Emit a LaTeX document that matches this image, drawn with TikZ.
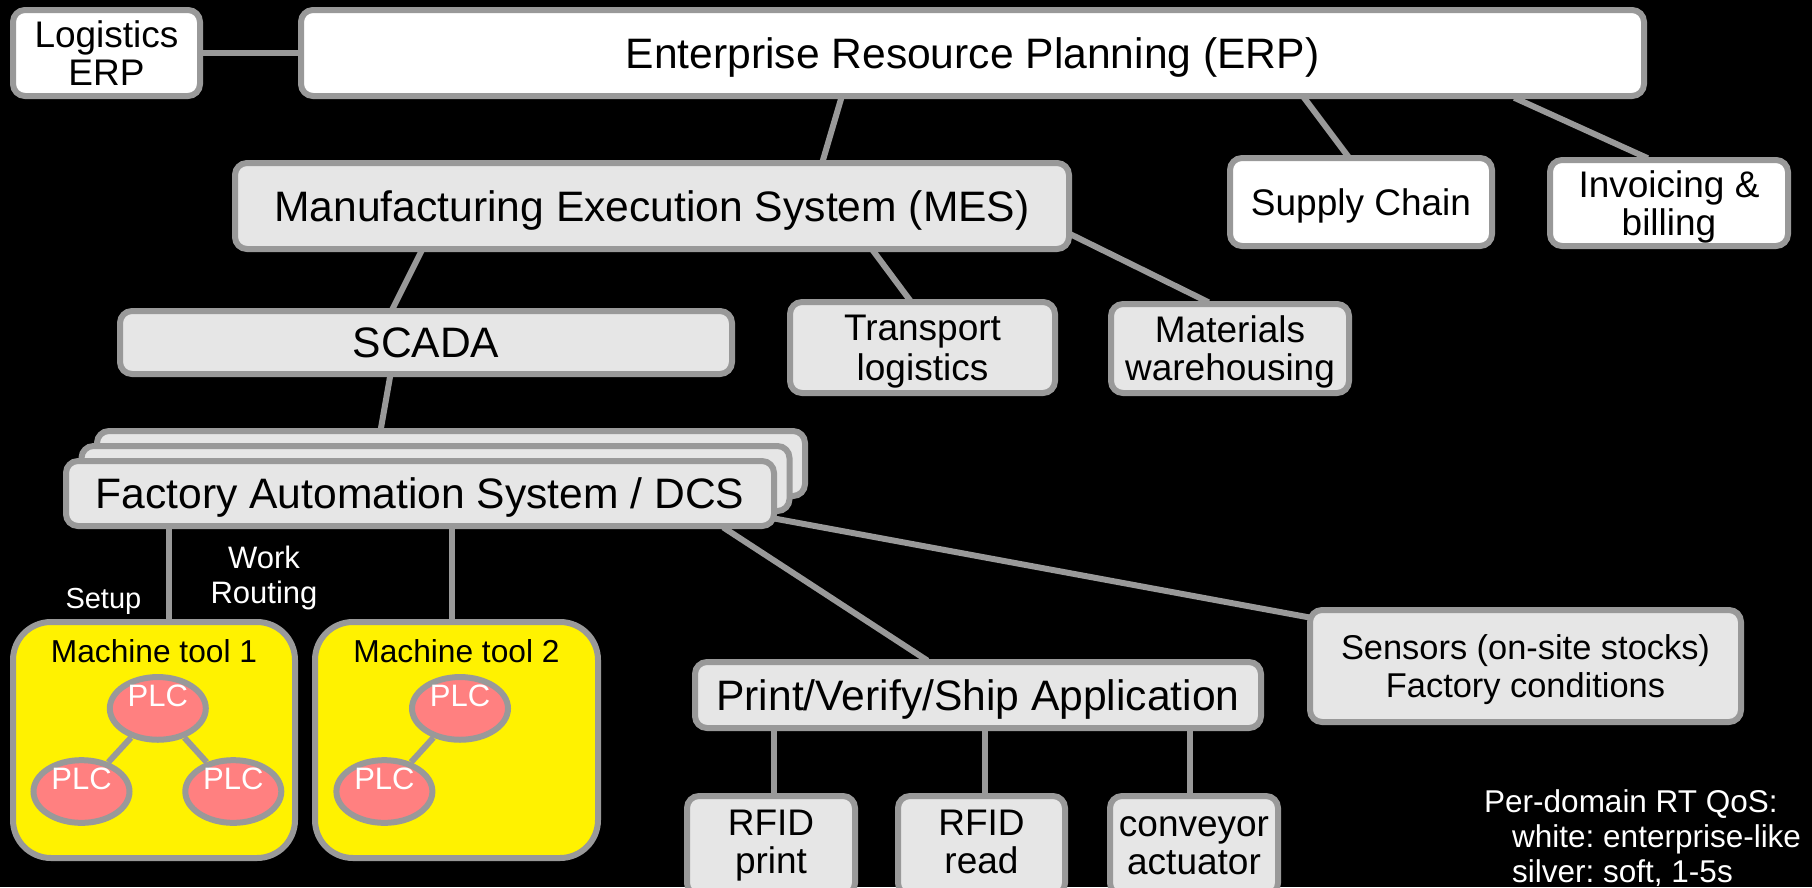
\documentclass[tikz,border=0pt]{standalone}
\usepackage{fontspec}
\setmainfont{Liberation Sans}
\usetikzlibrary{shapes.geometric,calc}
\definecolor{edge}{HTML}{999999}
\definecolor{silver}{HTML}{E6E6E6}
\definecolor{plcred}{HTML}{FF8080}
\pgfdeclarelayer{bg}
\pgfdeclarelayer{wires}
\pgfsetlayers{bg,wires,main}

\begin{document}
\frenchspacing
\begin{tikzpicture}[x=1pt,y=-1pt,
  box/.style={draw=edge, line width=6pt, rounded corners=12pt, inner sep=0pt, align=center, text=black, text depth=0pt},
  wbox/.style={box, fill=white},
  sbox/.style={box, fill=silver},
  big/.style={font=\fontsize{42.6}{46}\selectfont},
  small/.style={font=\fontsize{37}{38}\selectfont},
  mtbox/.style={draw=edge, line width=6pt, rounded corners=38pt, fill=yellow, inner sep=0pt},
  plc/.style={ellipse, draw=edge, line width=6pt, fill=plcred, inner sep=0pt, minimum width=96pt, minimum height=62.7pt},
  plctext/.style={text=white, font=\fontsize{31}{33}\selectfont, inner sep=0pt},
  link/.style={draw=edge, line width=6pt, shorten <=-3pt, shorten >=-3pt},
  plclink/.style={draw=edge, line width=6pt},
  note/.style={text=white, inner sep=0pt}
]
\path[use as bounding box] (0,0) rectangle (1812,887);
\clip (0,0) rectangle (1812,887);
\begin{pgfonlayer}{bg}
  \fill[black] (0,0) rectangle (1812,887);
\end{pgfonlayer}

% enterprise level
\node[wbox, small, minimum width=187pt, minimum height=86pt] (logi) at (106.5,53) {Logistics\\ERP};
\node[wbox, big, minimum width=1343pt, minimum height=86pt] (erp) at (972.5,53) {Enterprise Resource Planning (ERP)};
\node[wbox, small, minimum width=262pt, minimum height=88pt] (supply) at (1361,202) {Supply Chain};
\node[wbox, small, minimum width=238pt, minimum height=86pt] (invoice) at (1669,203) {Invoicing \&\\billing};

% operations level
\node[sbox, big, minimum width=834pt, minimum height=86pt] (mes) at (652,206) {Manufacturing Execution System (MES)};
\node[sbox, big, minimum width=612pt, minimum height=63pt] (scada) at (426,342.5) {SCADA};
\node[sbox, font=\fontsize{37}{40}\selectfont, minimum width=265pt, minimum height=91pt] (transport) at (922.5,347.5) {Transport\\logistics};
\node[sbox, small, minimum width=238pt, minimum height=89pt] (materials) at (1230,348.5) {Materials\\warehousing};

% stacked automation systems
\node[sbox, minimum width=708pt, minimum height=65pt] (fasback) at (451,463.5) {};
\node[sbox, minimum width=708pt, minimum height=65pt] (fasmid) at (435.5,478.5) {};
\node[sbox, big, minimum width=708pt, minimum height=65pt] (fas) at (420,493.5) {Factory Automation System / DCS};

% machine tools
\node[mtbox, minimum width=282pt, minimum height=236pt] (mt1) at (154,740) {};
\node[mtbox, minimum width=283pt, minimum height=236pt] (mt2) at (456.5,740) {};
\node[note, text=black, anchor=base, font=\fontsize{31.7}{34}\selectfont] (mt1title) at ([yshift=-43.5pt]mt1.north) {Machine tool 1};
\node[note, text=black, anchor=base, font=\fontsize{31.7}{34}\selectfont] (mt2title) at ([yshift=-43.5pt]mt2.north) {Machine tool 2};

\node[plc] (p11) at (157.8,708.4) {};
\node[plc] (p12) at (81.5,791.5) {};
\node[plc] (p13) at (233.3,791.5) {};
\node[plc] (p21) at (460,708.4) {};
\node[plc] (p22) at (384.4,791.5) {};
\draw[plclink] (p11) -- (p12);
\draw[plclink] (p11) -- (p13);
\draw[plclink] (p21) -- (p22);
\foreach \p in {p11,p12,p13,p21,p22}
  \node[plctext] (\p text) at ([yshift=12.4pt]\p.center) {PLC};

% print / verify / ship
\node[sbox, big, minimum width=566pt, minimum height=66pt] (pvs) at (978,695) {Print/Verify/Ship Application};
\node[sbox, font=\fontsize{34.4}{38.7}\selectfont, text depth=-4.4pt, minimum width=431pt, minimum height=112pt] (sensors) at (1525.5,666) {Sensors (on-site stocks)\\Factory conditions};
\node[sbox, small, text depth=7.8pt, minimum width=168pt, minimum height=99pt] (rfidp) at (771,845.5) {RFID\\print};
\node[sbox, small, text depth=7.8pt, minimum width=167pt, minimum height=99pt] (rfidr) at (981.5,845.5) {RFID\\read};
\node[sbox, small, minimum width=168pt, minimum height=99pt] (conv) at (1194,845.5) {conveyor\\actuator};

% link labels and notes
\node[note, anchor=base, font=\fontsize{29}{31}\selectfont] (setup) at (103.4,608.5) {Setup};
\node[note, align=center, font=\fontsize{31}{35}\selectfont] (routing) at (264,577.5) {Work\\Routing};
\node[note, anchor=base west, font=\fontsize{31.5}{35}\selectfont] (qos) at (1484,812) {Per-domain RT QoS:};
\node[note, anchor=base west, font=\fontsize{31.5}{35}\selectfont] (qoswhite) at (1512,847) {white: enterprise-like};
\node[note, anchor=base west, font=\fontsize{31.5}{35}\selectfont] (qossilver) at (1512,882) {silver: soft, 1-5s};

% connectors
\begin{pgfonlayer}{wires}
  \draw[link] (logi.east) -- (erp.west);
  \draw[link] ([xshift=543pt]erp.south west) -- ([xshift=591pt]mes.north west);
  \draw[link] ([xshift=1007pt]erp.south west) -- ([xshift=120pt]supply.north west);
  \draw[link] ([xshift=1219pt]erp.south west) -- ([xshift=98pt]invoice.north west);
  \draw[link] ([xshift=189pt]mes.south west) -- ([xshift=276pt]scada.north west);
  \draw[link] ([xshift=642pt]mes.south west) -- ([xshift=122pt]transport.north west);
  \draw[link] ([yshift=17pt]mes.south east) -- ([xshift=98pt]materials.north west);
  \draw[link] ([xshift=273pt]scada.south west) -- ([xshift=287pt]fasback.north west);
  \draw[link] ([xshift=105.5pt]fas.south west) -- ([xshift=158.5pt]mt1.north west);
  \draw[link] ([xshift=389pt]fas.south west) -- ([xshift=140pt]mt2.north west);
  \draw[link] ([xshift=662.7pt]fas.south west) -- ([xshift=233pt]pvs.north west);
  \draw[link] ([yshift=10pt]fas.south east) -- ([yshift=-10pt]sensors.north west);
  \draw[link] ([xshift=81.5pt]pvs.south west) -- ([xshift=89.5pt]rfidp.north west);
  \draw[link] ([xshift=293pt]pvs.south west) -- ([xshift=90pt]rfidr.north west);
  \draw[link] ([xshift=497.5pt]pvs.south west) -- ([xshift=82.5pt]conv.north west);
\end{pgfonlayer}
\end{tikzpicture}
\end{document}
